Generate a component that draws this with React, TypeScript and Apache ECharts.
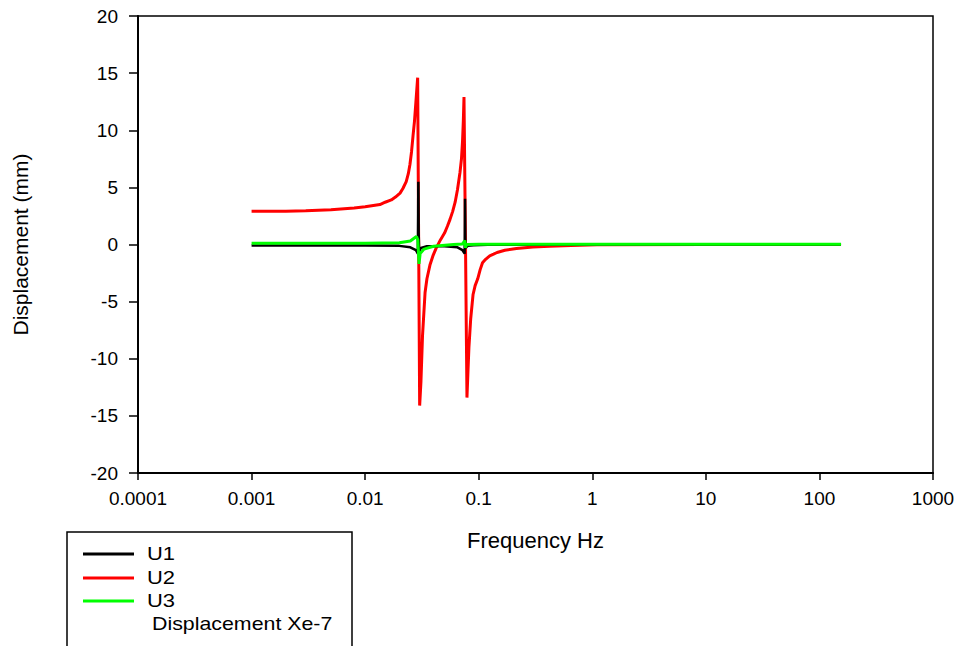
import React, { useEffect, useRef } from "react";
import * as echarts from "echarts";

// Frequency (Hz) and displacement (mm)
const freqU1 = [0.001, 0.003, 0.01, 0.02, 0.025, 0.028, 0.0291, 0.0294, 0.0296, 0.0299, 0.031, 0.035, 0.05, 0.065, 0.072, 0.0752, 0.0758, 0.0762, 0.0768, 0.08, 0.09, 0.12, 1, 10, 155];
const dispU1 = [-0.08, -0.08, -0.08, -0.12, -0.25, -0.5, -0.8, 5.5, 1.0, -0.6, -0.3, -0.15, -0.15, -0.25, -0.5, -0.8, 4.0, 0.5, -0.3, -0.12, -0.06, -0.03, 0, 0, 0];

const freqU2 = [0.001, 0.002, 0.003, 0.005, 0.008, 0.01, 0.0135, 0.015, 0.017, 0.0185, 0.0203, 0.0215, 0.023, 0.024, 0.0248, 0.0256, 0.0264, 0.0272, 0.028, 0.029, 0.0296, 0.0302, 0.031, 0.032, 0.0337, 0.035, 0.0372, 0.0395, 0.0423, 0.046, 0.05, 0.053, 0.0559, 0.059, 0.062, 0.065, 0.0684, 0.0705, 0.072, 0.0732, 0.0742, 0.0765, 0.0788, 0.0805, 0.082, 0.085, 0.0891, 0.093, 0.098, 0.103, 0.108, 0.115, 0.125, 0.135, 0.145, 0.17, 0.215, 0.3, 0.42, 0.65, 1.1, 10, 155];
const dispU2 = [2.9, 2.92, 2.95, 3.05, 3.2, 3.3, 3.5, 3.7, 3.9, 4.15, 4.5, 4.9, 5.5, 6.2, 7.0, 8.1, 9.5, 10.8, 12.5, 14.6, 0, -14.1, -12, -8, -4.2, -3.0, -1.8, -1.0, -0.3, 0.4, 1.0, 1.6, 2.2, 2.9, 3.7, 4.8, 6.3, 7.5, 9, 10.8, 12.9, 0, -13.4, -11, -9, -6.5, -4.4, -3.6, -3.0, -2.2, -1.6, -1.3, -1.0, -0.85, -0.7, -0.5, -0.35, -0.22, -0.15, -0.08, -0.03, 0, 0];

const freqU3 = [0.001, 0.01, 0.02, 0.025, 0.0283, 0.0291, 0.0298, 0.0305, 0.033, 0.04, 0.06, 0.072, 0.0755, 0.0765, 0.078, 0.1, 155];
const dispU3 = [0.1, 0.1, 0.15, 0.3, 0.7, 0.4, -1.7, -0.8, -0.4, -0.15, 0, 0.05, 0.35, -0.3, 0, 0.03, 0.03];

const seriesNames = ["U1", "U2", "U3"];
const seriesColors = ["#000000", "#ff0000", "#00ff00"];
const legendNote = "Displacement Xe-7";
const yTicks = { min: -20, max: 20, interval: 5 };
const xRange = { min: 0.0001, max: 1000 };

const pairs = (xs: number[], ys: number[]) => xs.map((x, i) => [x, ys[i]]);

export default function App() {
  const ref = useRef<HTMLDivElement>(null);
  useEffect(() => {
    if (!ref.current) return;
    const chart = echarts.init(ref.current, null, { renderer: "svg" });
    const font = "'Liberation Sans', Arial, sans-serif";
    const data = [pairs(freqU1, dispU1), pairs(freqU2, dispU2), pairs(freqU3, dispU3)];
    const zs = [3, 2, 4];
    const widths = [2.5, 3, 3];
    const legendY = [554, 578, 601];
    chart.setOption({
      animation: false,
      backgroundColor: "#ffffff",
      grid: {
        left: 138,
        top: 16,
        right: 29,
        bottom: 173,
        show: true,
        borderColor: "#000",
        borderWidth: 1.5,
        backgroundColor: "transparent",
      },
      xAxis: {
        type: "log",
        logBase: 10,
        min: xRange.min,
        max: xRange.max,
        splitNumber: 7,
        name: "Frequency Hz",
        nameLocation: "middle",
        nameGap: 56,
        nameTextStyle: { fontSize: 22, color: "#000", fontFamily: font },
        axisLine: { onZero: false, lineStyle: { color: "#000", width: 2 } },
        axisTick: { show: true, length: 7, lineStyle: { color: "#000", width: 1.5 } },
        minorTick: { show: false },
        splitLine: { show: false },
        axisLabel: {
          fontSize: 19,
          color: "#000",
          fontFamily: font,
          margin: 16,
          formatter: (v: number) => String(parseFloat(v.toPrecision(6))),
        },
      },
      yAxis: {
        type: "value",
        min: yTicks.min,
        max: yTicks.max,
        interval: yTicks.interval,
        name: "Displacement (mm)",
        nameLocation: "middle",
        nameGap: 107,
        nameRotate: 90,
        nameTextStyle: { fontSize: 21, color: "#000", fontFamily: font },
        axisLine: { onZero: false, lineStyle: { color: "#000", width: 2 } },
        axisTick: { show: true, length: 9, lineStyle: { color: "#000", width: 1.5 } },
        splitLine: { show: false },
        axisLabel: { fontSize: 19, color: "#000", fontFamily: font, margin: 20 },
      },
      series: seriesNames.map((n, i) => ({
        name: n,
        type: "line",
        data: data[i],
        showSymbol: false,
        symbol: "none",
        z: zs[i],
        lineStyle: { color: seriesColors[i], width: widths[i] },
        itemStyle: { color: seriesColors[i] },
      })),
      graphic: [
        {
          type: "rect",
          shape: { x: 67, y: 532, width: 285, height: 200 },
          style: { fill: "none", stroke: "#000", lineWidth: 1.5 },
          z: 10,
        },
        ...seriesNames.flatMap((n, i) => [
          {
            type: "line",
            shape: { x1: 83, y1: legendY[i], x2: 134, y2: legendY[i] },
            style: { stroke: seriesColors[i], lineWidth: 3 },
            z: 10,
          },
          {
            type: "text",
            x: 147,
            y: legendY[i],
            scaleX: 1.22,
            style: {
              text: n,
              fontSize: 18,
              fontFamily: font,
              fill: "#000",
              verticalAlign: "middle",
              align: "left",
            },
            z: 10,
          },
        ]),
        {
          type: "text",
          x: 152,
          y: 624,
          scaleX: 1.22,
          style: {
            text: legendNote,
            fontSize: 17.5,
            fontFamily: font,
            fill: "#000",
            verticalAlign: "middle",
            align: "left",
          },
          z: 10,
        },
      ],
    });
    return () => chart.dispose();
  }, []);
  return (
    <div
      ref={ref}
      style={{ position: "fixed", left: 0, top: 0, width: 962, height: 646, background: "#fff" }}
    />
  );
}
